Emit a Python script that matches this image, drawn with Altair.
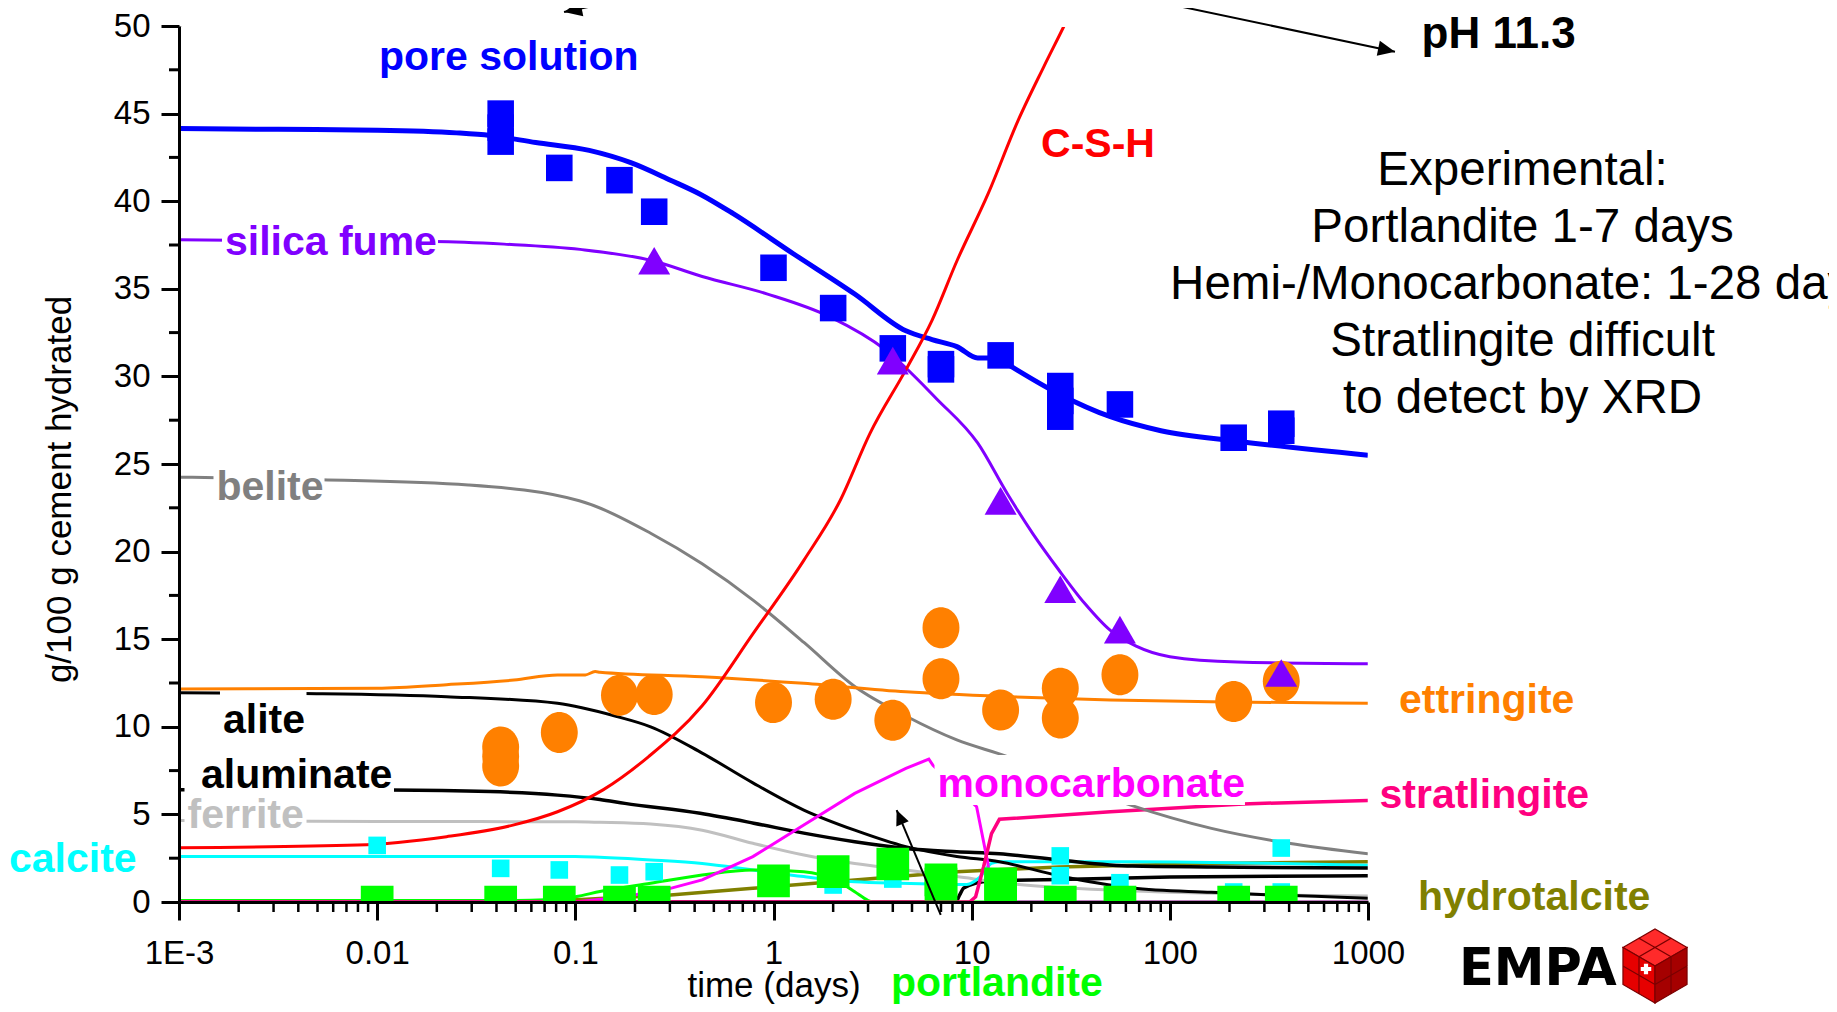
import altair as alt
import pandas as pd

FONT = "Liberation Sans"
W, H = 1189, 876
PAD = {"left": 171, "top": 18, "right": 461, "bottom": 102}

# ---------------- model curves: time (days) and g/100 g cement ----------------
pore_t = [0.001, 0.00316, 0.01, 0.0251, 0.0372, 0.0631, 0.1175, 0.1905, 0.302, 0.4266,
          0.6237, 1.259, 2.57, 4.656, 6.31, 8.414, 10.72, 13.49, 15.14, 27.54, 50.12,
          90.16, 218.8, 1000]
pore_v = [44.15, 44.1, 44.05, 43.9, 43.75, 43.35, 42.9, 42.2, 41.2, 40.4, 39.3, 37.0,
          34.7, 32.6, 32.1, 31.7, 31.05, 31.05, 30.7, 29.0, 27.7, 26.9, 26.3, 25.5]

silica_t = [0.001, 0.00316, 0.0195, 0.0437, 0.1057, 0.2455, 0.4365, 0.9333, 1.928, 3.69,
            6.683, 10.72, 15.14, 20.42, 27.54, 37.15, 50.12, 67.61, 100, 218.8, 1000]
silica_v = [37.8, 37.75, 37.7, 37.55, 37.25, 36.6, 35.7, 34.7, 33.4, 31.5, 28.7, 26.2,
            23.3, 21.0, 18.95, 17.05, 15.5, 14.6, 14.0, 13.7, 13.6]

belite_t = [0.001, 0.00525, 0.02884, 0.1047, 0.2399, 0.4365, 0.7943, 1.429, 2.57, 4.677,
            8.414, 15.14, 31.62, 64.57, 162.2, 398.1, 1000]
belite_v = [24.25, 24.1, 23.8, 22.9, 21.05, 19.3, 17.2, 14.8, 12.3, 10.6, 9.25, 8.3, 6.8,
            5.5, 4.2, 3.35, 2.75]

alite_t = [0.001, 0.00427, 0.02239, 0.08128, 0.1603, 0.2399, 0.4365, 0.787, 1.422, 2.57,
           4.656, 8.414, 13.8, 27.54, 64.57, 162.2, 1000]
alite_v = [11.95, 11.9, 11.72, 11.34, 10.6, 10.0, 8.5, 6.8, 5.25, 4.1, 3.16, 2.6, 2.3,
           1.5, 0.8, 0.55, 0.22]

alum_t = [0.001, 0.01175, 0.03715, 0.08128, 0.133, 0.1778, 0.4266, 0.7943, 1.422, 2.57,
          4.656, 8.414, 13.8, 27.54, 64.57, 162.2, 1000]
alum_v = [6.4, 6.39, 6.3, 6.1, 5.85, 5.63, 5.06, 4.5, 3.93, 3.44, 3.06, 2.87, 2.75, 2.4,
          2.05, 2.0, 1.94]

other_t = [0.001, 8.3, 8.7, 9.12, 12.3, 31.6, 100, 1000]
other_v = [0, 0, 0.4, 0.8, 1.2, 1.3, 1.42, 1.5]

ferrite_t = [0.001, 0.01, 0.1, 0.133, 0.2399, 0.4365, 0.787, 1.422, 2.57, 4.656, 8.414,
             15.14, 50.12, 1000]
ferrite_v = [4.65, 4.6, 4.58, 4.55, 4.45, 4.1, 3.35, 2.68, 2.2, 1.83, 1.45, 1.07, 0.68, 0.34]

calcite_t = [0.001, 0.1, 0.133, 0.2399, 0.4365, 0.787, 1.422, 2.57, 4.346, 9.44, 10.96,
             12.59, 13.8, 63.1, 1000]
calcite_v = [2.59, 2.59, 2.55, 2.4, 2.2, 1.83, 1.45, 1.16, 1.07, 1.0, 1.4, 2.2, 2.3, 2.3, 2.1]

portl_t = [0.001, 0.0501, 0.1, 0.133, 0.2399, 0.4365, 0.787, 1.422, 2.042, 2.57, 2.992,
           3.162, 1000]
portl_v = [0.08, 0.08, 0.3, 0.6, 1.07, 1.54, 1.83, 1.73, 1.26, 0.59, 0.1, 0, 0]

ettr_t = [0.001, 0.01, 0.02239, 0.049, 0.0813, 0.1122, 0.1259, 0.133, 0.4365, 1.422,
          4.656, 15.14, 50.12, 162.2, 1000]
ettr_v = [12.16, 12.2, 12.4, 12.67, 12.96, 12.96, 13.15, 13.12, 12.86, 12.48, 12.0, 11.72,
          11.53, 11.43, 11.34]

csh_t = [0.001, 0.00794, 0.02239, 0.049, 0.0813, 0.138, 0.2344, 0.4365, 0.787, 1.422,
         2.166, 3.069, 4.667, 6.31, 8.433, 12.08, 17.14, 23.17, 29.24, 35.5]
csh_v = [3.1, 3.25, 3.73, 4.4, 5.15, 6.4, 8.3, 11.2, 15.3, 19.5, 22.9, 26.75, 30.4, 33.2,
         36.6, 40.4, 44.6, 47.7, 50.0, 52.0]

mono_t = [0.001, 0.1, 0.1778, 0.302, 0.4365, 0.787, 1.422, 2.57, 4.656, 6.08, 6.38,
          10.59, 12.08, 12.59, 1000]
mono_v = [0, 0, 0.3, 0.78, 1.26, 2.59, 4.4, 6.2, 7.63, 8.15, 7.8, 5.44, 2.2, 0, 0]

strat_t = [0.001, 9.77, 10.47, 11.48, 12.59, 13.8, 50.12, 234.4, 1000]
strat_v = [0, 0, 0.3, 2.0, 3.9, 4.72, 5.15, 5.6, 5.8]

hydro_t = [0.001, 0.0631, 0.133, 0.302, 0.787, 2.57, 8.414, 27.54, 162.2, 1000]
hydro_v = [0, 0, 0.2, 0.4, 0.78, 1.26, 1.73, 2.0, 2.2, 2.3]

# ---------------- experimental points ----------------
ps_t = [0.042, 0.042, 0.042, 0.083, 0.167, 0.25, 1, 2, 4, 7, 7, 14, 28, 28, 28, 56, 210, 365, 365]
ps_v = [45.0, 44.2, 43.4, 41.9, 41.2, 39.4, 36.2, 33.9, 31.6, 30.7, 30.4, 31.2, 29.45, 28.6,
        27.7, 28.4, 26.5, 27.3, 26.9]
sf_t = [0.25, 4, 14, 28, 56, 365]
sf_v = [36.6, 30.9, 22.9, 17.85, 15.55, 13.07]
et_t = [0.042, 0.042, 0.042, 0.083, 0.167, 0.25, 1, 2, 4, 7, 7, 14, 28, 28, 56, 210, 365]
et_v = [8.85, 8.3, 7.76, 9.68, 11.8, 11.85, 11.38, 11.57, 10.37, 15.66, 12.74, 10.96, 12.2,
        10.5, 12.97, 11.45, 12.6]
ca_t = [0.01, 0.042, 0.083, 0.167, 0.25, 2, 4, 28, 28, 56, 210, 365, 365]
ca_v = [3.23, 1.92, 1.83, 1.54, 1.73, 0.97, 1.31, 2.63, 1.5, 1.1, 0.57, 3.08, 0.57]
pl_t = [0.01, 0.042, 0.083, 0.167, 0.25, 1, 2, 4, 7, 7, 14, 14, 28, 56, 210, 365]
pl_v = [0, 0, 0, 0, 0, 1.21, 1.73, 2.17, 1.26, 1.02, 1.04, 0.85, 0, 0, 0, 0]

# ---------------- labels (anchor in data units) ----------------
lab_text = ["pore solution", "silica fume", "belite", "alite", "aluminate", "ferrite",
            "calcite", "C-S-H", "monocarbonate", "stratlingite", "ettringite",
            "hydrotalcite", "portlandite"]
lab_t = [0.01021, 0.001706, 0.001545, 0.001667, 0.001291, 0.001104, 0.0001387, 22.39,
         6.722, 1143, 1433, 1787, 3.917]
lab_v = [47.49, 36.93, 22.95, 9.646, 6.507, 4.224, 1.712, 42.52, 5.993, 5.365, 10.79,
         -0.457, -5.37]
lab_col = ["#0000FF", "#8000FF", "#808080", "#000000", "#000000", "#C0C0C0", "#00FFFF",
           "#FF0000", "#FF00FF", "#FF0080", "#FF8000", "#808000", "#00FF00"]

# white backgrounds behind the in-plot labels
box_t1 = [0.001648, 0.001493, 0.00161, 0.001247, 0.001066, 6.494]
box_t2 = [0.02028, 0.005424, 0.0044, 0.01216, 0.0044, 239.4]
box_v1 = [36.36, 22.37, 9.075, 5.936, 3.653, 5.537]
box_v2 = [39.33, 25.34, 12.04, 8.904, 6.621, 8.39]

notes = ["Experimental:", "Portlandite 1-7 days", "Hemi-/Monocarbonate: 1-28 days",
         "Stratlingite difficult", "to detect by XRD"]

# arrows: tail (t, v) -> tip (t2, v2)
arr_t = [79.4, 0.3776, 6.98]
arr_v = [51.48, 52.28, -0.74]
arr_t2 = [1368, 0.0877, 4.183]
arr_v2 = [48.53, 50.8, 5.25]
arr_angle = [101.5, 258.5, 337]
arr_len = [17, 18, 15]

xticks = [0.001, 0.01, 0.1, 1, 10, 100, 1000]
yticks = list(range(0, 51, 5))
yminor = [2.5 + 5 * i for i in range(10)]
xminor = [k * 10 ** d for d in range(-3, 3) for k in range(2, 10)]

# ---------------- scales & axes ----------------
xs = alt.Scale(type="log", domain=[0.001, 1000], nice=False)
ys = alt.Scale(domain=[0, 50], nice=False, zero=False)

xaxis = alt.Axis(values=xticks,
                 labelExpr="datum.value < 0.005 ? '1E-3' : datum.value < 0.05 ? '0.01' : datum.value < 0.5 ? '0.1' : format(datum.value, 'd')",
                 tickSize=18, tickWidth=3, tickColor="black", domainWidth=3,
                 domainColor="black", labelFontSize=33, labelFont=FONT,
                 labelColor="black", labelPadding=17, labelFlush=False,
                 labelOverlap=False, grid=False,
                 titleFont=FONT, titleFontSize=35, titleFontWeight="normal",
                 titleColor="black", titleY=94, titleBaseline="alphabetic", zindex=1)
yaxis = alt.Axis(values=yticks, tickSize=18, tickWidth=3, tickColor="black",
                 domainWidth=3, domainColor="black", labelFontSize=33,
                 labelFont=FONT, labelColor="black", labelPadding=11,
                 labelFlush=False, labelOverlap=False, grid=False,
                 titleFont=FONT, titleFontSize=35,
                 titleFontWeight="normal", titleColor="black", titleAngle=270,
                 titleX=-109, titleY=463, titleAlign="center",
                 titleBaseline="alphabetic", zindex=1)
XT = "time (days)"
YT = "g/100 g cement hydrated"


def X(f="t"):
    return alt.X(f"{f}:Q", scale=xs, axis=xaxis, title=XT)


def Y(f="v"):
    return alt.Y(f"{f}:Q", scale=ys, axis=yaxis, title=YT)


layers = []

series = [
    ("hydrotalcite", hydro_t, hydro_v, "#808000", 3.5, "linear"),
    ("other", other_t, other_v, "#000000", 3.5, "monotone"),
    ("ferrite", ferrite_t, ferrite_v, "#C0C0C0", 3, "monotone"),
    ("calcite", calcite_t, calcite_v, "#00FFFF", 3, "monotone"),
    ("portlandite", portl_t, portl_v, "#00FF00", 3, "monotone"),
    ("aluminate", alum_t, alum_v, "#000000", 3.5, "monotone"),
    ("alite", alite_t, alite_v, "#000000", 3, "monotone"),
    ("monocarbonate", mono_t, mono_v, "#FF00FF", 3, "linear"),
    ("stratlingite", strat_t, strat_v, "#FF0080", 3.5, "linear"),
    ("belite", belite_t, belite_v, "#808080", 3, "monotone"),
    ("ettringite", ettr_t, ettr_v, "#FF8000", 3, "monotone"),
    ("silica fume", silica_t, silica_v, "#8000FF", 3, "monotone"),
    ("pore solution", pore_t, pore_v, "#0000FF", 5, "monotone"),
    ("C-S-H", csh_t, csh_v, "#FF0000", 3, "monotone"),
]

for name, tt, vv, col, sw, interp in series:
    df = pd.DataFrame({"t": tt, "v": vv, "o": list(range(len(tt)))})
    layers.append(alt.Chart(df).mark_line(color=col, strokeWidth=sw, clip=True,
                                          interpolate=interp)
                  .encode(x=X(), y=Y(), order="o:Q"))

# cover any light frame at the top and right edge of the plot area
layers.append(alt.Chart(pd.DataFrame({"a": [0]})).mark_rule(color="white", strokeWidth=2)
              .encode(x=alt.value(3), x2=alt.value(W + 1), y=alt.value(0)))
layers.append(alt.Chart(pd.DataFrame({"a": [0]})).mark_rule(color="white", strokeWidth=1.5)
              .encode(x=alt.value(W + 0.5), y=alt.value(-1), y2=alt.value(H - 2)))

# minor ticks
layers.append(alt.Chart(pd.DataFrame({"v": yminor})).mark_rule(color="black", strokeWidth=3)
              .encode(y=Y(), x=alt.value(-10), x2=alt.value(0)))
layers.append(alt.Chart(pd.DataFrame({"t": xminor})).mark_rule(color="black", strokeWidth=2.5)
              .encode(x=X(), y=alt.value(H), y2=alt.value(H + 10)))

# label backgrounds
layers.append(alt.Chart(pd.DataFrame({"t": box_t1, "t2": box_t2, "v": box_v1, "v2": box_v2}))
              .mark_rect(fill="white", strokeWidth=0)
              .encode(x=X("t"), x2="t2:Q", y=Y("v"), y2="v2:Q"))

# experimental points
ellipse = "M-0.9,0A0.9,1 0 1,0 0.9,0A0.9,1 0 1,0 -0.9,0Z"
pts = [
    (et_t, et_v, "#FF8000", ellipse, 1681),
    (ca_t, ca_v, "#00FFFF", "square", 310),
    (pl_t, pl_v, "#00FF00", "square", 1070),
    (ps_t, ps_v, "#0000FF", "square", 705),
    (sf_t, sf_v, "#8000FF", "triangle-up", 1024),
]
for tt, vv, col, shp, sz in pts:
    layers.append(alt.Chart(pd.DataFrame({"t": tt, "v": vv}))
                  .mark_point(filled=True, opacity=1, shape=shp, size=sz, color=col,
                              strokeWidth=0, clip=True)
                  .encode(x=X(), y=Y()))

# labels
layers.append(alt.Chart(pd.DataFrame({"lab": lab_text, "t": lab_t, "v": lab_v, "c": lab_col}))
              .mark_text(font=FONT, fontSize=41, fontWeight="bold", align="left",
                         baseline="alphabetic")
              .encode(x=X(), y=Y(), text="lab:N", color=alt.Color("c:N", scale=None)))

layers.append(alt.Chart(pd.DataFrame({"t": [1864], "v": [48.72], "s": ["pH 11.3"]}))
              .mark_text(font=FONT, fontSize=44, fontWeight="bold", align="left",
                         baseline="alphabetic", color="black")
              .encode(x=X(), y=Y(), text="s:N"))

layers.append(alt.Chart(pd.DataFrame({"t": [6026], "v": [40.92]}))
              .mark_text(font=FONT, fontSize=47.5, align="center", baseline="alphabetic",
                         color="black", lineHeight=57, text=notes)
              .encode(x=X(), y=Y()))

# arrows
adf = pd.DataFrame({"t": arr_t, "v": arr_v, "t2": arr_t2, "v2": arr_v2})
layers.append(alt.Chart(adf).mark_rule(color="black", strokeWidth=2)
              .encode(x=X("t"), x2="t2:Q", y=Y("v"), y2="v2:Q"))
head = "M0,0L-0.45,1L0.45,1Z"
for i in range(3):
    layers.append(alt.Chart(pd.DataFrame({"t": [arr_t2[i]], "v": [arr_v2[i]]}))
                  .mark_point(filled=True, opacity=1, shape=head,
                              size=(2 * arr_len[i]) ** 2, color="black",
                              strokeWidth=0, angle=arr_angle[i])
                  .encode(x=X(), y=Y()))

# EMPA logo
one = pd.DataFrame({"a": [0]})
layers.append(alt.Chart(one).mark_text(font="DejaVu Sans", fontSize=51, fontWeight="bold",
                                       align="left", baseline="alphabetic",
                                       color="black", text="EMPA")
              .encode(x=alt.value(1280), y=alt.value(959)))


def face(p0, a, b):
    parts = []
    for i in (0, 0.5):
        for j in (0, 0.5):
            c = (p0[0] + i * a[0] + j * b[0], p0[1] + i * a[1] + j * b[1])
            pts4 = [c, (c[0] + 0.5 * a[0], c[1] + 0.5 * a[1]),
                    (c[0] + 0.5 * a[0] + 0.5 * b[0], c[1] + 0.5 * a[1] + 0.5 * b[1]),
                    (c[0] + 0.5 * b[0], c[1] + 0.5 * b[1])]
            parts.append("M" + "L".join(f"{x:.3f},{y:.3f}" for x, y in pts4) + "Z")
    return "".join(parts)


u = (-0.866, -0.5)
v_ = (0.866, -0.5)
w = (0.0, 1.0)
faces = [(face((0, 0), u, v_), "#ff2a2a"), (face((0, 0), u, w), "#e60000"),
         (face((0, 0), v_, w), "#a50000")]
for pth, col in faces:
    layers.append(alt.Chart(one).mark_point(shape=pth, size=5476, filled=True, fill=col,
                                            stroke="#7a0000", strokeWidth=1.2, opacity=1)
                  .encode(x=alt.value(1476), y=alt.value(940)))
layers.append(alt.Chart(one).mark_point(shape="cross", size=110, filled=True, fill="white",
                                        strokeWidth=0, opacity=1)
              .encode(x=alt.value(1467), y=alt.value(943)))

chart = (alt.layer(*layers)
         .properties(width=W, height=H, padding=PAD,
                     autosize=alt.AutoSizeParams(type="none"))
         .configure_view(stroke="transparent", strokeWidth=0)
         .configure(background="white"))

chart.save("out.html", embed_options={"renderer": "svg", "actions": False})
